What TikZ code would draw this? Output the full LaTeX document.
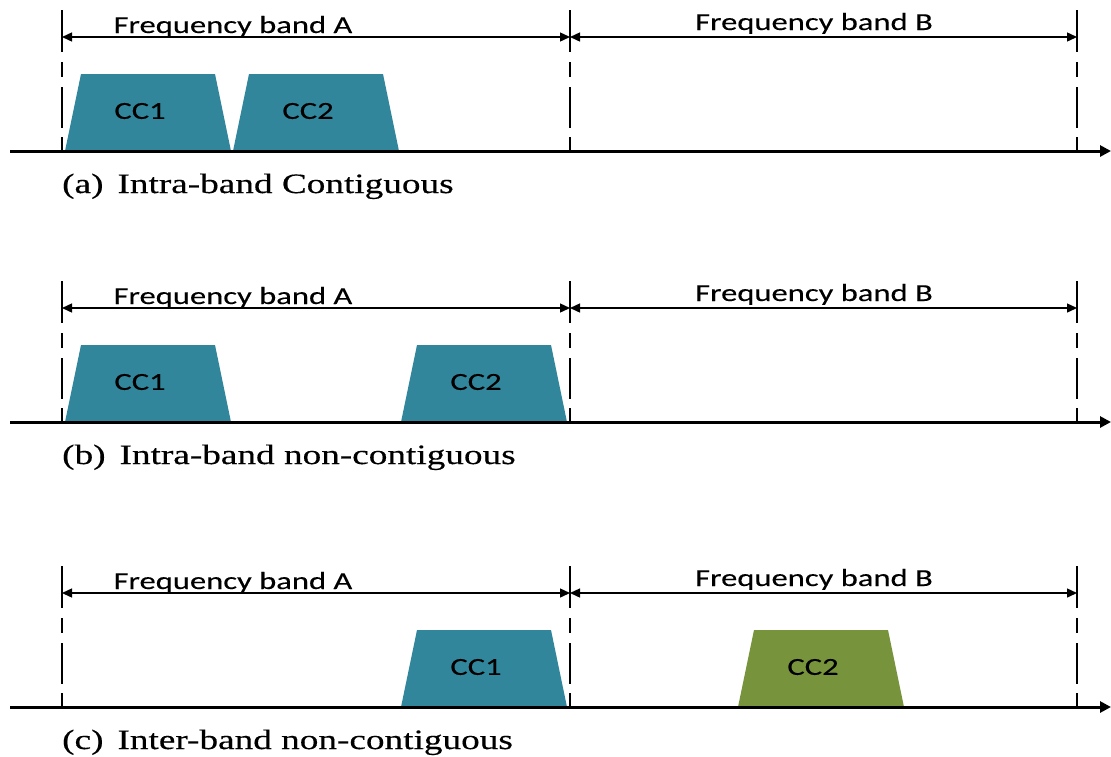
\documentclass[tikz,border=0pt]{standalone}
\usepackage{fontspec}
\setmainfont{Liberation Serif}[FakeStretch=1.33, FakeBold=0.4]
\newfontfamily\labfont{Carlito}[FakeStretch=1.33, FakeBold=0.2]
\usetikzlibrary{arrows.meta}
\definecolor{ccteal}{RGB}{49,134,155}
\definecolor{ccgreen}{RGB}{119,147,60}

\tikzset{
  freqaxis/.style={line width=3pt, -{Triangle[length=11pt,width=11pt]}},
  bandedge/.style={line width=2.8pt,
    dash pattern=on 42pt off 10pt on 15pt off 10pt on 41pt off 9pt on 14pt},
  bandspan/.style={line width=1.4pt,
    {Triangle[length=10pt,width=9pt]}-{Triangle[length=10pt,width=9pt]}},
  bandlabel/.style={font=\labfont\fontsize{24.5}{24.5}\selectfont, anchor=base, inner sep=0pt},
  cclabel/.style={font=\labfont\fontsize{24.5}{24.5}\selectfont, inner sep=0pt},
  subcaption/.style={font=\fontsize{28}{28}\selectfont, anchor=base west, inner sep=0pt},
}

% frequency axis with the two band spans; #1 prefix, #2 vertical offset
\newcommand\bandframe[2]{%
  \begin{scope}[yshift=-#2pt]
    \coordinate (#1-o) at (10,151);
    \coordinate (#1-f) at (1111,151);
    \draw[freqaxis] (#1-o) -- (#1-f);
    \foreach \n/\x in {l/62, m/570, r/1077}{
      \coordinate (#1-\n top) at (\x,10);
      \coordinate (#1-\n bot) at (\x,151);
      \coordinate (#1-\n dim) at (\x,37);
      \draw[bandedge] (#1-\n top) -- (#1-\n bot);
    }
    \draw[bandspan] (#1-ldim) -- (#1-mdim);
    \draw[bandspan] (#1-mdim) -- (#1-rdim);
    \node[bandlabel] (#1-A) at (233,33) {Frequency band A};
    \node[bandlabel] (#1-B) at (814,30) {Frequency band B};
  \end{scope}}

% component carrier; #1 name, #2 vertical offset, #3 left x, #4 colour, #5 text
\newcommand\carrier[5]{%
  \begin{scope}[yshift=-#2pt]
    \fill[#4] (#3,151) -- (#3+16,74) -- (#3+150,74) -- (#3+166,151) -- cycle;
    \node[cclabel] (#1) at (#3+75,111) {#5};
  \end{scope}}

\begin{document}
\begin{tikzpicture}[x=1pt, y=-1pt]
  \useasboundingbox (0,0) rectangle (1111,756);

  % (a) intra-band contiguous
  \carrier{a-cc1}{0}{65}{ccteal}{CC1}
  \carrier{a-cc2}{0}{233}{ccteal}{CC2}
  \bandframe{a}{0}
  \node[subcaption] (a-cap) at (62,193) {(a)\hspace{14pt}Intra-band Contiguous};

  % (b) intra-band non-contiguous
  \carrier{b-cc1}{271}{65}{ccteal}{CC1}
  \carrier{b-cc2}{271}{401}{ccteal}{CC2}
  \bandframe{b}{271}
  \node[subcaption] (b-cap) at (62,464) {(b)\hspace{14pt}Intra-band non-contiguous};

  % (c) inter-band non-contiguous
  \carrier{c-cc1}{556}{401}{ccteal}{CC1}
  \carrier{c-cc2}{556}{738}{ccgreen}{CC2}
  \bandframe{c}{556}
  \node[subcaption] (c-cap) at (62,749) {(c)\hspace{14pt}Inter-band non-contiguous};
\end{tikzpicture}
\end{document}
